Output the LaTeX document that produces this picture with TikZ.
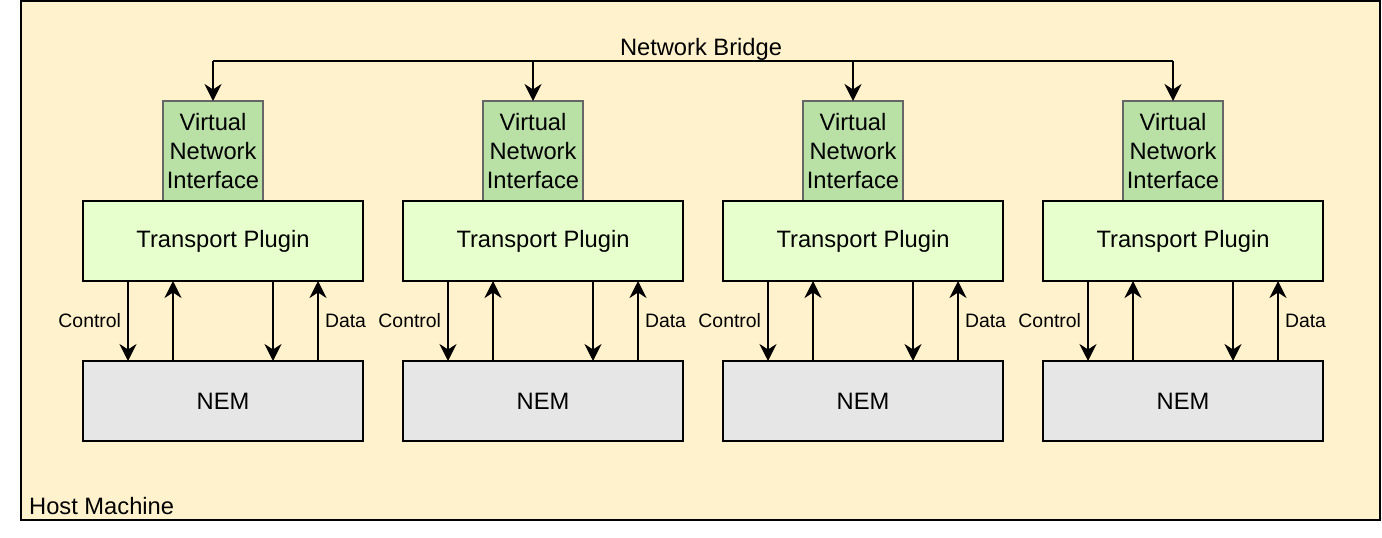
\documentclass[tikz,border=0pt]{standalone}
\usepackage{fontspec}
\setmainfont{Liberation Sans}
\usetikzlibrary{arrows.meta,calc}
\definecolor{hostbg}{HTML}{FFF2CC}
\definecolor{vnifill}{HTML}{B9E0A5}
\definecolor{vnidraw}{HTML}{666666}
\definecolor{tpfill}{HTML}{E6FFCC}
\definecolor{nemfill}{HTML}{E6E6E6}
\tikzset{
  mainfont/.style={font=\fontsize{23.7}{28.6}\selectfont},
  lblfont/.style={font=\fontsize{19.4}{23}\selectfont},
  box/.style={draw=black, line width=2pt, inner sep=0pt, outer sep=0pt, mainfont, align=center},
  vnibox/.style={box, draw=vnidraw, fill=vnifill, minimum width=100pt, minimum height=100pt},
  tpbox/.style={box, fill=tpfill, minimum width=280pt, minimum height=80pt},
  nembox/.style={box, fill=nemfill, minimum width=280pt, minimum height=80pt},
  arr/.style={line width=2pt, -{Stealth[length=17pt,width=17pt,inset=5.5pt]}},
  lbl/.style={lblfont, inner sep=0pt},
}
\begin{document}
\begin{tikzpicture}[x=1pt,y=-1pt]
\useasboundingbox (0,0) rectangle (1382,538);
\node[draw=black, line width=2pt, fill=hostbg, inner sep=0pt, outer sep=0pt,
      minimum width=1359pt, minimum height=518.5pt] (hostbox) at (700.5,260.25) {};
\node[mainfont, anchor=base west, inner sep=0pt] (hostlbl) at (29,514) {Host Machine};
\foreach \i in {0,1,2,3}{
  \pgfmathsetmacro{\dx}{320*\i}
  \node[vnibox] (vni\i) at (213+\dx,151) {Virtual\\Network\\Interface};
  \node[tpbox] (tp\i) at (223+\dx,241) {Transport Plugin};
  \node[nembox] (nem\i) at (223+\dx,401) {NEM};
  \draw[arr] ($(tp\i.south west)+(45,0)$) -- node[lbl, left=6pt] (ctl\i) {Control} ($(nem\i.north west)+(45,0)$);
  \draw[arr] ($(nem\i.north west)+(90,0)$) -- ($(tp\i.south west)+(90,0)$);
  \draw[arr] ($(tp\i.south west)+(190,0)$) -- ($(nem\i.north west)+(190,0)$);
  \draw[arr] ($(nem\i.north west)+(235,0)$) -- node[lbl, right=6pt] (dat\i) {Data} ($(tp\i.south west)+(235,0)$);
}
\coordinate (bridge) at (693,61);
\node[mainfont, anchor=base, inner sep=0pt] (bridgelbl) at (701,55) {Network Bridge};
\draw[line width=2pt] (vni0.north |- bridge) -- (vni3.north |- bridge);
\foreach \i in {0,1,2,3}{
  \draw[arr] (vni\i.north |- bridge) -- (vni\i.north);
}
\end{tikzpicture}
\end{document}
